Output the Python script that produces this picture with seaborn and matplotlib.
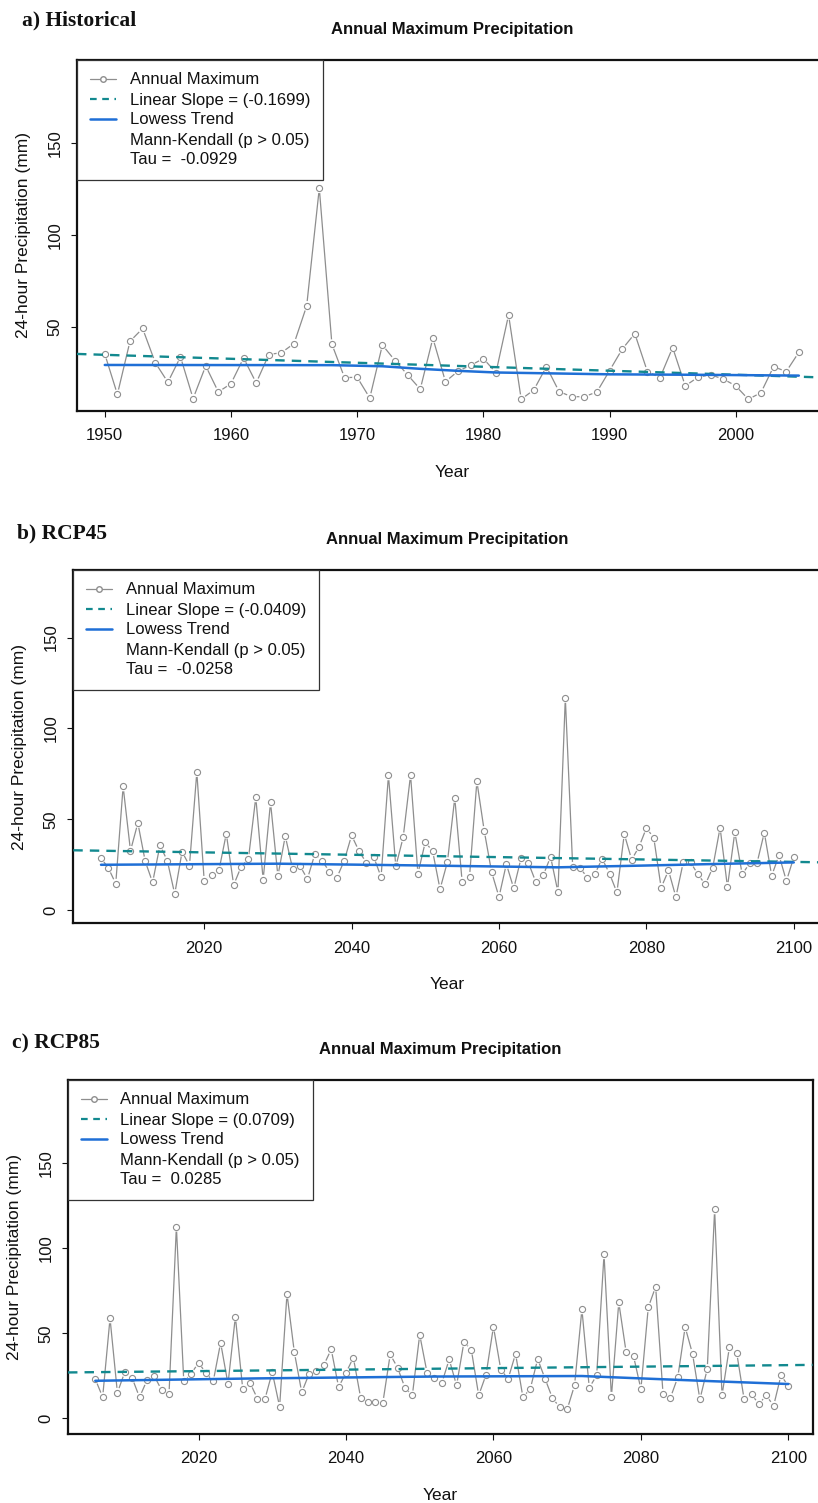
import numpy as np
import seaborn as sns
import matplotlib.pyplot as plt
from matplotlib.lines import Line2D

sns.set_style("ticks")
plt.rcParams["font.family"] = ["Liberation Sans", "DejaVu Sans"]

# === DATA ===
years_hist = list(range(1950, 2006))
precip_hist = [35.1, 13.1, 42.0, 49.0, 30.4, 19.7, 33.5, 10.8, 28.6, 14.4,
               18.9, 32.9, 19.3, 34.8, 35.8, 40.8, 61.3, 125.5, 40.4, 22.2,
               22.4, 11.1, 40.0, 31.5, 23.7, 15.9, 43.7, 20.0, 25.8, 28.9,
               32.6, 24.9, 56.4, 10.4, 15.5, 28.2, 14.6, 11.8, 11.8, 14.4,
               26.0, 37.7, 46.2, 25.5, 22.2, 38.6, 17.7, 22.4, 23.7, 21.5,
               17.7, 10.4, 14.0, 28.2, 25.5, 36.0]

years_fut = list(range(2006, 2101))
precip_rcp45 = [28.7, 23.2, 14.6, 68.1, 32.7, 48.0, 26.9, 15.3, 35.7, 27.2,
                8.9, 32.2, 24.5, 76.0, 16.2, 19.4, 21.9, 42.1, 13.9, 23.8,
                28.2, 62.1, 16.8, 59.3, 18.8, 40.8, 22.8, 24.4, 17.2, 30.7,
                27.2, 21.2, 17.9, 27.2, 41.2, 32.6, 26.1, 29.3, 18.3, 74.2,
                24.1, 40.1, 74.4, 20.1, 37.5, 32.4, 11.6, 26.5, 61.8, 15.7,
                18.4, 70.9, 43.6, 21.0, 7.3, 25.4, 12.0, 28.7, 26.0, 15.5,
                19.2, 29.4, 10.0, 116.8, 23.9, 23.3, 17.9, 19.9, 28.3, 20.1,
                9.8, 41.9, 27.8, 34.9, 45.2, 39.9, 12.4, 21.9, 7.3, 26.3,
                26.3, 19.7, 14.2, 23.4, 45.4, 12.8, 43.0, 19.7, 25.8, 25.8,
                42.7, 19.0, 30.2, 16.1, 29.1]
precip_rcp85 = [23.1, 12.5, 58.8, 15.1, 27.2, 23.7, 12.4, 22.3, 24.9, 16.6,
                14.3, 112.7, 21.9, 26.2, 32.7, 26.8, 21.8, 44.5, 20.2, 59.8,
                17.2, 20.8, 11.5, 11.2, 27.2, 6.8, 73.3, 38.8, 15.3, 26.2,
                27.8, 31.4, 40.6, 18.4, 26.8, 35.7, 11.9, 9.4, 9.4, 9.2,
                37.6, 29.8, 18.0, 13.5, 49.2, 26.8, 23.5, 20.8, 34.7, 19.4,
                44.9, 40.4, 13.5, 25.7, 53.9, 28.6, 23.3, 38.0, 12.4, 17.4,
                34.9, 23.3, 11.9, 6.5, 5.3, 19.4, 64.1, 18.0, 25.3, 96.5,
                12.7, 68.2, 38.8, 36.6, 17.2, 65.3, 77.4, 14.5, 12.1, 24.1,
                53.7, 38.0, 11.2, 29.0, 122.9, 13.5, 41.8, 38.4, 11.2, 14.1,
                8.4, 13.5, 7.4, 25.3, 19.0]

# lowess trend as drawn in the figure
lowess_hist_years = [1950, 1968, 1972, 1975, 1978, 1981, 1990, 1998, 2005]
lowess_hist = [29.1, 29.0, 28.4, 27.0, 25.9, 25.0, 24.0, 23.7, 23.3]
lowess_rcp45_years = [2006, 2030, 2050, 2068, 2080, 2090, 2100]
lowess_rcp45 = [25.0, 25.6, 24.6, 23.6, 24.6, 25.5, 26.3]
lowess_rcp85_years = [2006, 2028, 2052, 2072, 2080, 2090, 2100]
lowess_rcp85 = [22.1, 23.5, 24.6, 24.9, 23.5, 21.8, 20.2]

panel_titles = ["a) Historical", "b) RCP45", "c) RCP85"]
slope_labels = ["(-0.1699)", "(-0.0409)", "(0.0709)"]
tau_labels = ["-0.0929", "-0.0258", "0.0285"]

panels = [
    (years_hist, precip_hist, lowess_hist_years, lowess_hist),
    (years_fut, precip_rcp45, lowess_rcp45_years, lowess_rcp45),
    (years_fut, precip_rcp85, lowess_rcp85_years, lowess_rcp85),
]

# === LAYOUT (pixels) ===
W, H = 818, 1503
boxes = [(77, 60, 826.6, 411), (73.3, 570, 821.5, 923.3), (68, 1080, 812.7, 1434)]
xlims = [(1947.8, 2007.2), (2002.24, 2103.76), (2002.3, 2103.3)]
ylims = [(4.0, 195.4), (-7.2, 187.2), (-9.2, 199.0)]
xticks = [range(1950, 2001, 10), range(2020, 2101, 20), range(2020, 2101, 20)]
yticks = [[50, 100, 150], [0, 50, 100, 150], [0, 50, 100, 150]]
label_pos = [(22, 20), (17, 533), (12, 1043)]

gray = "#8e8e8e"
teal = "#12898f"
blue = "#1f6fd6"

fig = plt.figure(figsize=(W / 100, H / 100), dpi=100)
fig.patch.set_facecolor("white")

for i, (yrs, vals, lw_x, lw_y) in enumerate(panels):
    l, t, r, b = boxes[i]
    wpx, hpx = r - l, b - t
    ax = fig.add_axes([l / W, 1 - b / H, wpx / W, hpx / H])
    ax.set_xlim(*xlims[i])
    ax.set_ylim(*ylims[i])

    # annual maxima drawn R-style (line broken around each point)
    sns.lineplot(x=yrs, y=vals, ax=ax, color=gray, lw=0.9, zorder=2)
    sns.scatterplot(x=yrs, y=vals, ax=ax, color="white", s=50,
                    edgecolor="none", zorder=3)
    ax.plot(yrs, vals, "o", ms=4.4, mfc="white", mec=gray, mew=0.8, zorder=4)
    # linear fit across the whole axis
    sns.regplot(x=np.array(yrs), y=np.array(vals), ax=ax, scatter=False,
                ci=None, truncate=False,
                line_kws=dict(color=teal, lw=1.7, ls=(0, (4, 3)), zorder=5))
    sns.lineplot(x=lw_x, y=lw_y, ax=ax, color=blue, lw=1.8, zorder=6)

    ax.set_xlim(*xlims[i])
    ax.set_ylim(*ylims[i])
    ax.set_xticks(list(xticks[i]))
    ax.set_yticks(yticks[i])
    ax.tick_params(direction="out", length=4.5, width=0.8, labelsize=12,
                   pad=6, colors="#111111")
    ax.tick_params(axis="x", pad=8)
    ax.tick_params(axis="y", labelrotation=90)
    for lab in ax.get_yticklabels():
        lab.set_va("center")
    for sp in ax.spines.values():
        sp.set_visible(True)
        sp.set_linewidth(1.6)
        sp.set_color("#111111")

    ax.set_xlabel("Year", fontsize=12.5, color="#111111")
    ax.set_ylabel("24-hour Precipitation (mm)", fontsize=12.5, color="#111111")
    ax.xaxis.set_label_coords(0.5, -54 / hpx)
    ax.yaxis.set_label_coords(-46 / wpx, 0.5)
    ax.set_title("Annual Maximum Precipitation", fontsize=12,
                 fontweight="bold", pad=19, color="#111111")

    handles = [
        Line2D([], [], color=gray, lw=0.9, marker="o", ms=4, mfc="white",
               mec=gray),
        Line2D([], [], color=teal, lw=1.6, ls=(0, (3, 2.5))),
        Line2D([], [], color=blue, lw=1.8),
        Line2D([], [], ls="none"),
        Line2D([], [], ls="none"),
    ]
    texts = ["Annual Maximum",
             "Linear Slope = " + slope_labels[i],
             "Lowess Trend",
             "Mann-Kendall (p > 0.05)",
             "Tau =  " + tau_labels[i]]
    leg = ax.legend(handles, texts, loc="upper left", bbox_to_anchor=(0, 1),
                    borderaxespad=0, fontsize=12, frameon=True, fancybox=False,
                    framealpha=1, edgecolor="#333333", borderpad=0.75,
                    labelspacing=0.3, handlelength=1.6, handletextpad=0.8,
                    labelcolor="#111111")
    leg.get_frame().set_linewidth(0.9)
    leg.set_zorder(10)

    fig.text(label_pos[i][0] / W, 1 - label_pos[i][1] / H, panel_titles[i],
             family=["Liberation Serif", "DejaVu Serif"], fontweight="bold",
             fontsize=15.5, ha="left", va="center", color="#111111")

fig.savefig("out.png", dpi=100, facecolor="white")
